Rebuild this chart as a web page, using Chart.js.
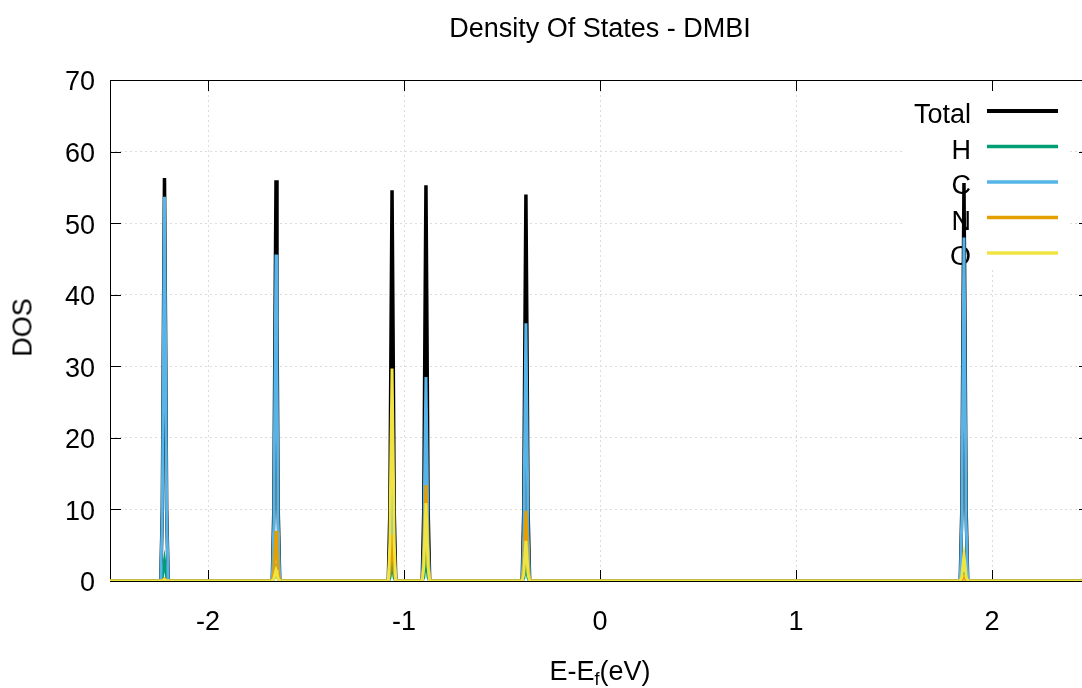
<!DOCTYPE html>
<html>
<head>
<meta charset="utf-8">
<script src="https://cdn.jsdelivr.net/npm/chart.js@4"></script>
<style>
  html, body { margin: 0; padding: 0; background: #fff; overflow: hidden; }
  #wrap { position: relative; width: 1092px; height: 688px; }
  #dosChart { display: block; }
  .lbl { position: absolute; font-family: 'Liberation Sans', Arial, sans-serif; font-size: 27px; line-height: 27px; color: #000; white-space: nowrap; }
  #title { left: 300px; width: 600px; top: 15px; text-align: center; }
  #xlabel { left: 400px; width: 400px; top: 658px; text-align: center; }
  #xlabel sub { font-size: 18px; vertical-align: -5px; line-height: 0; }
  #ylabel { left: -27px; width: 100px; top: 314px; text-align: center; transform: rotate(-90deg); }
</style>
</head>
<body>
<div id="wrap">
  <canvas id="dosChart" width="1092" height="688"></canvas>
  <div class="lbl" id="title">Density Of States - DMBI</div>
  <div class="lbl" id="xlabel">E-E<sub>f</sub>(eV)</div>
  <div class="lbl" id="ylabel">DOS</div>
</div>
<script>
// energy grid (eV), one row per peak
const energy = [
  -2.5,
  -2.241, -2.233, -2.227, -2.222, -2.217, -2.211, -2.203,
  -1.672, -1.664, -1.658, -1.653, -1.648, -1.642, -1.634,
  -1.080, -1.072, -1.066, -1.061, -1.056, -1.050, -1.042,
  -0.907, -0.899, -0.893, -0.888, -0.883, -0.877, -0.869,
  -0.397, -0.389, -0.383, -0.378, -0.373, -0.367, -0.359,
  1.838, 1.846, 1.852, 1.857, 1.862, 1.868, 1.876,
  2.5
];

const dosTotal = [
  0,
  0, 10.1, 36.6, 56.3, 36.6, 10.1, 0,
  0, 10.1, 36.4, 56.0, 36.4, 10.1, 0,
  0, 9.8, 35.5, 54.6, 35.5, 9.8, 0,
  0, 10.0, 35.9, 55.3, 35.9, 10.0, 0,
  0, 9.7, 35.1, 54.0, 35.1, 9.7, 0,
  0, 10.0, 36.1, 55.6, 36.1, 10.0, 0,
  0
];

const dosH = [
  0,
  0, 0.5, 1.9, 2.9, 1.9, 0.5, 0,
  0, 0.3, 1.2, 1.8, 1.2, 0.3, 0,
  0, 0.4, 1.6, 2.4, 1.6, 0.4, 0,
  0, 0.5, 2.0, 3.0, 2.0, 0.5, 0,
  0, 0.4, 1.4, 2.2, 1.4, 0.4, 0,
  0, 0.2, 0.7, 1.0, 0.7, 0.2, 0,
  0
];

const dosC = [
  0,
  0, 9.7, 34.9, 53.7, 34.9, 9.7, 0,
  0, 8.2, 29.6, 45.6, 29.6, 8.2, 0,
  0, 2.9, 10.4, 16.0, 10.4, 2.9, 0,
  0, 5.1, 18.5, 28.5, 18.5, 5.1, 0,
  0, 6.5, 23.4, 36.0, 23.4, 6.5, 0,
  0, 8.6, 31.2, 48.0, 31.2, 8.6, 0,
  0
];

const dosN = [
  0,
  0, 0.1, 0.2, 0.3, 0.2, 0.1, 0,
  0, 1.3, 4.6, 7.0, 4.6, 1.3, 0,
  0, 1.2, 4.2, 6.5, 4.2, 1.2, 0,
  0, 2.4, 8.7, 13.4, 8.7, 2.4, 0,
  0, 1.8, 6.4, 9.8, 6.4, 1.8, 0,
  0, 0.1, 0.4, 0.6, 0.4, 0.1, 0,
  0
];

const dosO = [
  0,
  0, 0, 0.1, 0.2, 0.1, 0, 0,
  0, 0.3, 1.0, 1.5, 1.0, 0.3, 0,
  0, 5.3, 19.3, 29.7, 19.3, 5.3, 0,
  0, 2.0, 7.1, 10.9, 7.1, 2.0, 0,
  0, 1.0, 3.6, 5.6, 3.6, 1.0, 0,
  0, 0.6, 2.3, 3.5, 2.3, 0.6, 0,
  0
];

const seriesNames = ['Total', 'H', 'C', 'N', 'O'];
const seriesValues = [dosTotal, dosH, dosC, dosN, dosO];
const seriesColors = ['#000000', '#009e73', '#56b4e9', '#e69f00', '#f0e442'];
const seriesWidths = [3.5, 3, 3, 3, 3];

const xTicks = [-2, -1, 0, 1, 2];
const yTicks = [0, 10, 20, 30, 40, 50, 60, 70];

const datasets = seriesNames.map((name, i) => ({
  label: name,
  data: energy.map((e, j) => ({ x: e, y: seriesValues[i][j] })),
  borderColor: seriesColors[i],
  borderWidth: seriesWidths[i],
  pointRadius: 0,
  tension: 0,
  fill: false,
  // later series sit on top, like gnuplot
  order: seriesNames.length - i,
}));

// frame, inward ticks and the key (gnuplot look)
const framePlugin = {
  id: 'frame',
  beforeDatasetsDraw(chart) {
    const { ctx, chartArea: a, scales } = chart;
    ctx.save();

    // key box
    ctx.fillStyle = '#fff';
    ctx.fillRect(903, 88, 165, 180);

    ctx.strokeStyle = '#000';
    ctx.lineWidth = 1;
    ctx.strokeRect(a.left + 0.5, a.top + 0.5, a.right - a.left - 1, a.bottom - a.top);

    const tl = 11;
    ctx.beginPath();
    xTicks.forEach((v) => {
      const x = Math.round(scales.x.getPixelForValue(v)) + 0.5;
      ctx.moveTo(x, a.bottom); ctx.lineTo(x, a.bottom - tl);
      ctx.moveTo(x, a.top); ctx.lineTo(x, a.top + tl);
    });
    yTicks.forEach((v) => {
      const y = Math.round(scales.y.getPixelForValue(v)) + 0.5;
      ctx.moveTo(a.left, y); ctx.lineTo(a.left + tl, y);
      ctx.moveTo(a.right, y); ctx.lineTo(a.right - tl, y);
    });
    ctx.stroke();

    ctx.font = '27px "Liberation Sans", Arial, sans-serif';
    ctx.textAlign = 'right';
    ctx.textBaseline = 'alphabetic';
    seriesNames.forEach((name, i) => {
      const base = 123 + i * 35.5;
      ctx.fillStyle = '#000';
      ctx.fillText(name, 971, base);
      ctx.strokeStyle = seriesColors[i];
      ctx.lineWidth = i === 0 ? 4 : 3.5;
      ctx.beginPath();
      ctx.moveTo(987, base - 12);
      ctx.lineTo(1058, base - 12);
      ctx.stroke();
    });
    ctx.restore();
  },
};

const tickFont = { family: "'Liberation Sans', Arial, sans-serif", size: 27 };
const gridOpts = { color: '#dcdcdc', drawTicks: false, lineWidth: 1 };

new Chart(document.getElementById('dosChart').getContext('2d'), {
  type: 'line',
  data: { datasets },
  options: {
    responsive: false,
    animation: false,
    layout: { padding: { top: 80, right: 2, left: 0, bottom: 0 } },
    plugins: { legend: { display: false }, tooltip: { enabled: false } },
    scales: {
      x: {
        type: 'linear',
        min: -2.5,
        max: 2.5,
        grid: gridOpts,
        border: { display: false, dash: [2, 3] },
        ticks: { color: '#000', font: tickFont, padding: 25, maxRotation: 0 },
        afterBuildTicks(scale) { scale.ticks = xTicks.map((v) => ({ value: v })); },
        afterFit(scale) { scale.height = 107; },
      },
      y: {
        min: 0,
        max: 70,
        grid: gridOpts,
        border: { display: false, dash: [2, 3] },
        ticks: { stepSize: 10, color: '#000', font: tickFont, padding: 15, labelOffset: 3 },
        afterFit(scale) { scale.width = 110; },
      },
    },
  },
  plugins: [framePlugin],
});
</script>
</body>
</html>
